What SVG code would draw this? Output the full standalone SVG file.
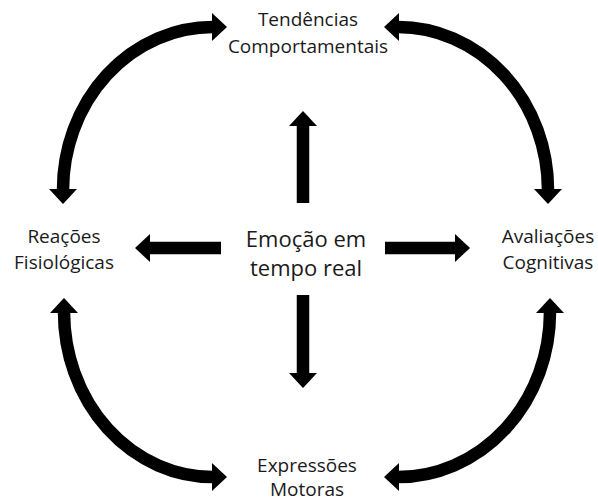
<svg xmlns="http://www.w3.org/2000/svg" width="598" height="502" viewBox="0 0 598 502">
  <style>
    .lbl { font-family: "Open Sans", "Noto Sans", sans-serif; font-size: 19px; fill: #1a1a1a; text-anchor: middle; }
    .core { font-family: "Open Sans", "Noto Sans", sans-serif; font-size: 22px; fill: #1a1a1a; text-anchor: middle; }
    .arc { fill: none; stroke: #000; stroke-width: 12.5; marker-start: url(#head); marker-end: url(#head); }
    .ray { fill: none; stroke: #000; stroke-width: 12.5; marker-end: url(#head); }
  </style>
  <defs>
    <marker id="head" markerUnits="userSpaceOnUse" viewBox="0 -15 16 30" markerWidth="16" markerHeight="30" refX="1" refY="0" orient="auto-start-reverse">
      <path d="M0,-14 L15,0 L0,14 Z" fill="#000"/>
    </marker>
  </defs>

  <rect width="598" height="502" fill="#fff"/>

  <!-- connectors -->
  <g id="connectors">
    <!-- outer cycle -->
    <path class="arc" d="M213,27 A150,163 0 0 0 63,190"/>
    <path class="arc" d="M398,27 A150,163 0 0 1 548,190"/>
    <path class="arc" d="M64,312 A149,165 0 0 0 213,477"/>
    <path class="arc" d="M550,312 A152,165 0 0 1 398,477"/>
    <!-- rays from the centre -->
    <path class="ray" d="M303,203 L303,125"/>
    <path class="ray" d="M303,295 L303,374"/>
    <path class="ray" d="M221,248 L149,248"/>
    <path class="ray" d="M385,248 L456,248"/>
  </g>

  <g id="center">
    <text class="core" x="306" y="247">Emoção em</text>
    <text class="core" x="306" y="276">tempo real</text>
  </g>
  <g id="top">
    <text class="lbl" x="308" y="26">Tendências</text>
    <text class="lbl" x="308" y="53">Comportamentais</text>
  </g>
  <g id="left">
    <text class="lbl" x="64" y="243">Reações</text>
    <text class="lbl" x="64" y="269">Fisiológicas</text>
  </g>
  <g id="right">
    <text class="lbl" x="548" y="243">Avaliações</text>
    <text class="lbl" x="548" y="269">Cognitivas</text>
  </g>
  <g id="bottom">
    <text class="lbl" x="307" y="472">Expressões</text>
    <text class="lbl" x="307" y="496">Motoras</text>
  </g>
</svg>
